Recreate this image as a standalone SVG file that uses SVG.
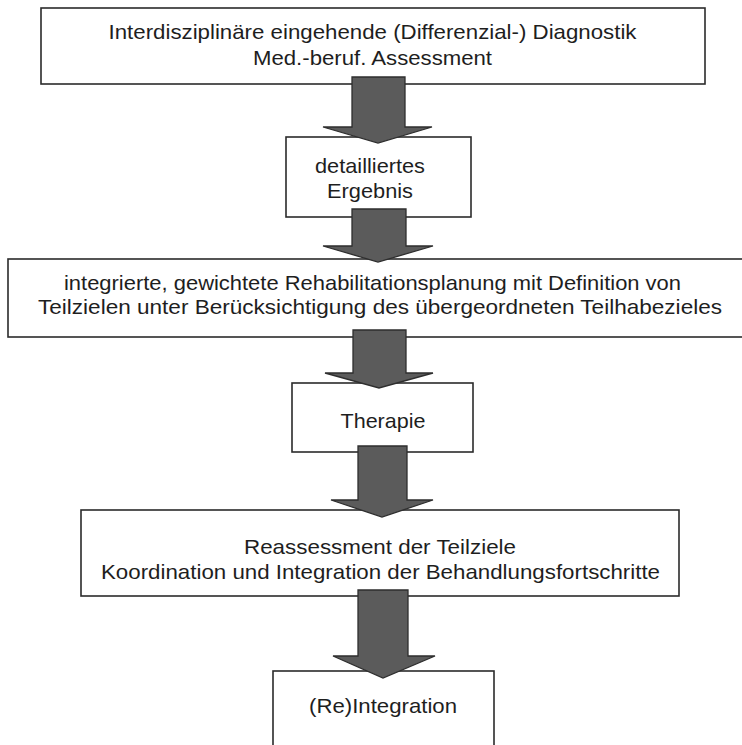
<svg xmlns="http://www.w3.org/2000/svg" width="742" height="745" viewBox="0 0 742 745">
<style>
.box{fill:#fff;stroke:#2b2b2b;stroke-width:1.6}
.t{font-family:"Liberation Sans",Arial,sans-serif;font-size:21px;fill:#1e1e1e;text-anchor:middle}
.arr{fill:#5b5b5b;stroke:#2e2e2e;stroke-width:1.3;stroke-linejoin:miter}
</style>
<rect width="742" height="745" fill="#fff"/>
<g id="n1">
<rect class="box" x="41" y="8" width="664" height="76"/>
<text class="t" x="372.5" y="39" textLength="528" lengthAdjust="spacingAndGlyphs">Interdisziplinäre eingehende (Differenzial-) Diagnostik</text>
<text class="t" x="372.5" y="65" textLength="239" lengthAdjust="spacingAndGlyphs">Med.-beruf. Assessment</text>
</g>
<g id="n2">
<rect class="box" x="286" y="137" width="185" height="80"/>
<text class="t" x="370" y="173" textLength="110" lengthAdjust="spacingAndGlyphs">detailliertes</text>
<text class="t" x="370" y="198" textLength="86" lengthAdjust="spacingAndGlyphs">Ergebnis</text>
</g>
<g id="n3">
<rect class="box" x="8" y="259" width="740" height="78"/>
<text class="t" x="372.5" y="290" textLength="617" lengthAdjust="spacingAndGlyphs">integrierte, gewichtete Rehabilitationsplanung mit Definition von</text>
<text class="t" x="380" y="314" textLength="684" lengthAdjust="spacingAndGlyphs">Teilzielen unter Berücksichtigung des übergeordneten Teilhabezieles</text>
</g>
<g id="n4">
<rect class="box" x="292" y="383" width="181" height="69"/>
<text class="t" x="383" y="428" textLength="85" lengthAdjust="spacingAndGlyphs">Therapie</text>
</g>
<g id="n5">
<rect class="box" x="81" y="510" width="598" height="86"/>
<text class="t" x="380" y="554" textLength="272" lengthAdjust="spacingAndGlyphs">Reassessment der Teilziele</text>
<text class="t" x="380.5" y="579" textLength="559" lengthAdjust="spacingAndGlyphs">Koordination und Integration der Behandlungsfortschritte</text>
</g>
<g id="n6">
<rect class="box" x="273" y="671" width="221" height="100"/>
<text class="t" x="383" y="713" textLength="148" lengthAdjust="spacingAndGlyphs">(Re)Integration</text>
</g>
<g id="connectors">
<path class="arr" d="M352,77 H405 V127 H432 L378,143 L323,127 H352 Z"/>
<path class="arr" d="M352,209 H406 V246 H433 L378,262 L323,246 H352 Z"/>
<path class="arr" d="M353,330 H406 V373 H433 L379,388 L325,373 H353 Z"/>
<path class="arr" d="M358,446 H407 V500 H433 L382,517 L331,500 H358 Z"/>
<path class="arr" d="M358,590 H408 V656 H435 L383,678 L333,656 H358 Z"/>
</g>
</svg>
